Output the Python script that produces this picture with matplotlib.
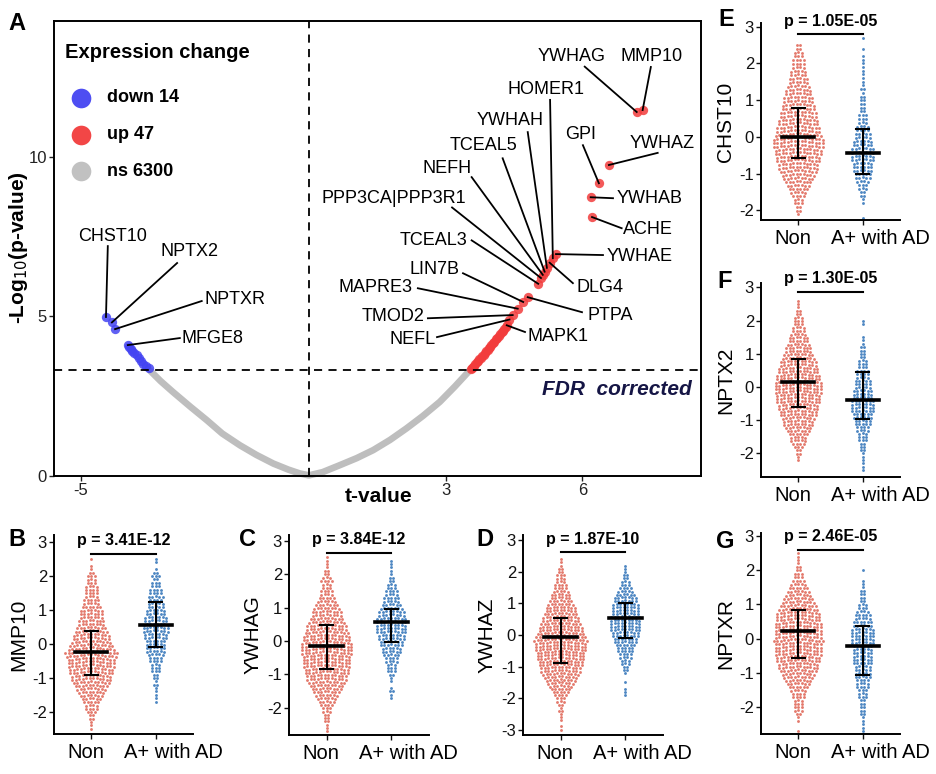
import matplotlib
matplotlib.use("Agg")
import matplotlib.pyplot as plt

plt.rcParams['font.family'] = ['Liberation Sans', 'DejaVu Sans']
plt.rcParams['axes.unicode_minus'] = False

W, H = 937, 774

# ---------------- volcano data (panel A) ----------------
ns_t = [-3.49, -3.25, -2.98, -2.6, -2.24, -1.9, -1.51, -1.15, -0.78, -0.45, -0.2, 0.0,
        0.3, 0.68, 1.05, 1.41, 1.78, 2.14, 2.5, 2.87, 3.2, 3.53]
ns_y = [3.31, 2.97, 2.63, 2.17, 1.75, 1.33, 0.96, 0.66, 0.39, 0.2, 0.08, 0.02,
        0.12, 0.34, 0.56, 0.81, 1.13, 1.49, 1.88, 2.32, 2.8, 3.31]

down_names = ['CHST10', 'NPTX2', 'NPTXR', 'MFGE8'] + [''] * 10
down_t = [-4.45, -4.32, -4.25, -3.97, -3.94, -3.90, -3.87, -3.83, -3.78, -3.73, -3.68, -3.63, -3.57, -3.50]
down_y = [4.98, 4.81, 4.60, 4.10, 4.05, 3.98, 3.93, 3.86, 3.78, 3.70, 3.60, 3.52, 3.45, 3.37]

up_names = ['MMP10', 'YWHAG', 'YWHAZ', 'GPI', 'YWHAB', 'ACHE', 'YWHAE', 'HOMER1', 'DLG4',
            'YWHAH', 'TCEAL5', 'NEFH', 'PPP3CA|PPP3R1', 'TCEAL3', 'PTPA', 'LIN7B', 'MAPRE3',
            'TMOD2', 'NEFL', 'MAPK1'] + [''] * 27
up_t = [7.32, 7.19, 6.58, 6.36, 6.18, 6.21, 5.42, 5.35, 5.28, 5.22, 5.17, 5.13, 5.09, 5.03,
        4.80, 4.70, 4.58, 4.47, 4.40, 4.34,
        4.32, 4.29, 4.26, 4.23, 4.20, 4.16, 4.13, 4.10, 4.06, 4.03, 4.00, 3.97, 3.94, 3.92,
        3.89, 3.86, 3.83, 3.80, 3.77, 3.74, 3.71, 3.68, 3.65, 3.62, 3.60, 3.58, 3.56]
up_y = [11.46, 11.40, 9.74, 9.17, 8.73, 8.11, 6.95, 6.82, 6.68, 6.52, 6.40, 6.30, 6.20, 6.02,
        5.60, 5.45, 5.24, 5.04, 4.90, 4.72,
        4.66, 4.60, 4.55, 4.50, 4.45, 4.38, 4.33, 4.28, 4.20, 4.15, 4.10, 4.05, 4.00, 3.96,
        3.90, 3.85, 3.80, 3.76, 3.70, 3.66, 3.60, 3.56, 3.50, 3.45, 3.42, 3.38, 3.35]

counts = {'down': 14, 'up': 47, 'ns': 6300}
fdr_cut = 3.31

# label text centre (t, y) and start of leader line (t, y)
label_pos = {
    'MMP10': (7.52, 13.13, 7.50, 12.81), 'YWHAG': (5.77, 13.13, 6.05, 12.82),
    'HOMER1': (5.20, 12.12, 5.29, 11.78), 'YWHAH': (4.41, 11.12, 4.80, 10.77),
    'TCEAL5': (3.84, 10.36, 4.25, 9.95), 'NEFH': (3.03, 9.64, 3.57, 9.36),
    'PPP3CA|PPP3R1': (1.86, 8.69, 3.14, 8.41), 'GPI': (5.96, 10.68, 6.01, 10.36),
    'YWHAZ': (7.74, 10.40, 7.65, 10.12), 'YWHAB': (7.48, 8.70, 6.67, 8.70),
    'ACHE': (7.43, 7.73, 6.86, 7.76), 'TCEAL3': (2.74, 7.38, 3.57, 7.38),
    'YWHAE': (7.26, 6.89, 6.45, 6.92), 'LIN7B': (2.76, 6.48, 3.38, 6.35),
    'DLG4': (6.38, 5.91, 5.79, 6.04), 'MAPRE3': (1.47, 5.91, 2.39, 5.88),
    'PTPA': (6.60, 5.03, 5.99, 5.13), 'TMOD2': (1.84, 5.01, 2.61, 4.94),
    'NEFL': (2.28, 4.26, 2.81, 4.35), 'MAPK1': (5.46, 4.38, 4.74, 4.51),
    'CHST10': (-4.30, 7.51, -4.41, 7.20), 'NPTX2': (-2.61, 7.02, -2.89, 6.67),
    'NPTXR': (-1.62, 5.54, -2.35, 5.48), 'MFGE8': (-2.11, 4.32, -2.83, 4.32),
}

# ---------------- swarm panels (B-G) ----------------
# each group: value of lowest row, dot counts per 0.1-wide row
genes = ['MMP10', 'YWHAG', 'YWHAZ', 'CHST10', 'NPTX2', 'NPTXR']
letters = ['B', 'C', 'D', 'E', 'F', 'G']
pvals = ['3.41E-12', '3.84E-12', '1.87E-10', '1.05E-05', '1.30E-05', '2.46E-05']

non_start = [-2.5, -2.7, -3.0, -2.1, -2.2, -2.7]
non_counts = [
    [1, 1, 1, 2, 2, 3, 4, 4, 5, 6, 7, 8, 9, 10, 11, 12, 12, 13, 13, 14, 14, 14, 15, 16, 14,
     13, 12, 11, 11, 10, 9, 8, 8, 7, 7, 7, 6, 5, 5, 4, 4, 4, 4, 3, 3, 3, 2, 1, 1, 0, 1],
    [1, 1, 1, 2, 2, 2, 3, 3, 4, 5, 6, 7, 8, 9, 10, 11, 12, 12, 13, 13, 14, 14, 14, 14, 15, 15,
     15, 15, 14, 14, 13, 12, 12, 11, 10, 9, 9, 8, 7, 6, 5, 4, 4, 3, 3, 4, 3, 2, 2, 1, 1, 1, 1],
    [1, 1, 0, 1, 1, 1, 2, 1, 2, 3, 3, 4, 5, 6, 7, 8, 9, 10, 11, 12, 12, 13, 13, 14, 14, 14, 15,
     15, 15, 16, 15, 14, 13, 13, 12, 11, 11, 10, 9, 9, 8, 7, 6, 6, 5, 4, 4, 3, 3, 3, 2, 2, 1, 1, 1],
    [1, 2, 2, 3, 3, 4, 5, 6, 7, 8, 9, 10, 11, 12, 12, 13, 13, 14, 14, 15, 15, 15, 14, 13, 13,
     12, 12, 11, 11, 10, 10, 9, 9, 8, 8, 7, 6, 6, 5, 5, 4, 4, 4, 3, 3, 2, 2],
    [1, 1, 2, 2, 3, 4, 5, 5, 6, 7, 8, 9, 9, 10, 11, 11, 12, 12, 13, 13, 13, 14, 14, 14, 14,
     13, 13, 12, 12, 11, 11, 10, 9, 8, 8, 7, 6, 6, 5, 4, 4, 3, 3, 3, 2, 2, 1, 1, 1],
    [1, 0, 0, 1, 1, 2, 3, 3, 3, 3, 4, 4, 5, 6, 7, 8, 9, 10, 11, 12, 12, 13, 13, 14, 14, 14, 14,
     15, 14, 14, 14, 14, 14, 13, 13, 13, 12, 11, 10, 9, 8, 7, 6, 5, 4, 3, 3, 2, 2, 1, 1, 1, 1],
]
ad_start = [-1.7, -1.7, -1.9, -2.2, -2.5, -2.7]
ad_counts = [
    [1, 1, 1, 1, 1, 2, 1, 2, 2, 3, 3, 3, 4, 4, 5, 6, 6, 6, 6, 7, 7, 8, 8, 8, 7, 7, 6, 6, 5,
     5, 4, 5, 4, 4, 3, 3, 2, 3, 2, 1, 0, 1, 1],
    [1, 1, 2, 1, 0, 1, 1, 2, 3, 3, 3, 4, 4, 5, 6, 6, 7, 7, 8, 8, 9, 9, 9, 9, 9, 8, 8, 7, 6, 5,
     5, 4, 4, 3, 3, 2, 2, 1, 1, 1, 1, 1],
    [1, 1, 1, 0, 1, 0, 0, 1, 2, 2, 3, 3, 4, 4, 5, 5, 6, 7, 7, 8, 8, 9, 9, 9, 9, 9, 8, 8, 8, 8,
     7, 7, 6, 5, 4, 3, 3, 2, 2, 1, 1, 1],
    [1, 0, 0, 0, 1, 1, 2, 2, 3, 3, 4, 5, 5, 6, 6, 6, 7, 7, 7, 7, 6, 6, 5, 5, 4, 4, 3, 3, 3, 2,
     2, 2, 2, 2, 1, 2, 1, 1, 1, 1, 1, 1, 1, 1, 1, 0, 1, 0, 0, 1],
    [1, 1, 1, 1, 1, 1, 2, 2, 2, 3, 3, 3, 4, 4, 5, 5, 6, 6, 7, 7, 7, 7, 6, 6, 6, 5, 5, 5, 4, 4,
     4, 3, 3, 3, 2, 2, 2, 2, 1, 1, 1, 0, 0, 0, 1, 1],
    [1, 1, 1, 1, 1, 2, 2, 2, 2, 2, 3, 3, 3, 4, 4, 4, 5, 5, 5, 5, 6, 6, 6, 6, 6, 6, 7, 7, 7, 7,
     7, 6, 6, 5, 5, 4, 3, 3, 2, 2, 2, 2, 1, 1, 1, 0, 0, 1],
]
# mean and error bar ends
non_mean = [-0.25, -0.15, -0.07, 0.01, 0.15, 0.23]
non_lo = [-0.91, -0.84, -0.88, -0.58, -0.61, -0.58]
non_hi = [0.38, 0.48, 0.55, 0.80, 0.83, 0.85]
ad_mean = [0.54, 0.57, 0.55, -0.44, -0.39, -0.23]
ad_lo = [-0.10, -0.02, -0.08, -1.02, -0.96, -1.05]
ad_hi = [1.24, 0.97, 1.02, 0.21, 0.46, 0.38]
bar_y = [2.65, 2.63, 2.62, 2.79, 2.87, 2.59]
groups = ['Non', 'A+ with AD']

# panel boxes in pixels: left, top, right, bottom, ylim
boxes = [(54, 535, 193, 734, (-2.65, 3.2)), (289, 535, 429, 735, (-2.81, 3.17)),
         (523, 535, 663, 735, (-3.17, 3.17)), (761, 23, 900, 220, (-2.26, 3.10)),
         (761, 283, 900, 477, (-2.71, 3.13)), (761, 533, 900, 734, (-2.79, 3.09))]
yticks = [range(-2, 4), range(-2, 4), range(-3, 4), range(-2, 4), range(-2, 4), range(-2, 4)]

BLUE, RED, GREY = '#4444f2', '#f23c3c', '#bebebe'
NON_C, AD_C = '#e3796c', '#4c86c2'


def add_px_axes(fig, l, t, r, b):
    return fig.add_axes([l / W, 1 - b / H, (r - l) / W, (b - t) / H])


fig = plt.figure(figsize=(W / 100, H / 100), dpi=100)

# ---------------- panel A ----------------
ax = add_px_axes(fig, 54, 21, 701, 476)
ax.set_xlim(-5.59, 8.6)
ax.set_ylim(0, 14.25)
ax.plot(ns_t, ns_y, color=GREY, lw=4.8, solid_capstyle='round', solid_joinstyle='round',
        clip_on=False, zorder=2)
ax.scatter(down_t, down_y, s=45, color=BLUE, alpha=0.85, linewidths=0, zorder=3)
ax.scatter(up_t, up_y, s=45, color=RED, alpha=0.85, linewidths=0, zorder=3)
ax.axhline(fdr_cut, color='black', lw=1.3, ls=(0, (4.5, 3.5)), zorder=4)
ax.axvline(0, color='black', lw=1.3, ls=(0, (4.5, 3.5)), zorder=4)

for names, ts, ys in [(down_names, down_t, down_y), (up_names, up_t, up_y)]:
    for n, t, y in zip(names, ts, ys):
        if n in label_pos:
            lx, ly, sx, sy = label_pos[n]
            ax.plot([sx, t], [sy, y], color='black', lw=1.3, zorder=5)
            ax.text(lx, ly, n, fontsize=13, ha='center', va='center', zorder=6)

ax.text(0.985, 2.72, 'FDR  corrected', transform=ax.get_yaxis_transform(), ha='right',
        va='center', fontsize=15, fontweight='bold', style='italic', color='#151545')

# legend
ax.text(0.017, 0.93, 'Expression change', transform=ax.transAxes, fontsize=14.5,
        fontweight='bold', va='center', ha='left')
for i, (key, col) in enumerate([('down', BLUE), ('up', RED), ('ns', GREY)]):
    yy = 0.831 - i * 0.0805
    ax.scatter([0.042], [yy], s=200, color=col, transform=ax.transAxes, linewidths=0,
               alpha=0.95, clip_on=False)
    ax.text(0.082, yy, f'{key} {counts[key]}', transform=ax.transAxes, fontsize=13,
            fontweight='bold', va='center', ha='left')

ax.set_xticks([-5, 3, 6])
ax.set_yticks([0, 5, 10])
ax.tick_params(labelsize=12, length=3.5, width=1.0, colors='#222222', pad=1.5)
for s in ax.spines.values():
    s.set_linewidth(1.4)
fig.text(379 / W, 1 - 497 / H, 't-value', fontsize=15, fontweight='bold', ha='center', va='center')
fig.text(19 / W, 1 - 248 / H, '-Log$_{10}$(p-value)', fontsize=15, fontweight='bold',
         rotation=90, ha='center', va='center')
fig.text(17 / W, 1 - 23 / H, 'A', fontsize=17, fontweight='bold', ha='center', va='center')

# ---------------- panels B-G ----------------
DX = 0.054     # horizontal dot spacing
DROOP = 0.011  # outer dots of a row sit a little lower (beeswarm look)
label_shift = [-4.0, 12.5]  # group label offsets in points, as set in the figure
letter_px = [(17, 540), (248, 540), (485, 540), (726, 20), (725, 282), (725, 541)]
for k in range(6):
    l, t, r, b, yl = boxes[k]
    bx = add_px_axes(fig, l, t, r, b)
    bx.set_xlim(0.42, 2.58)
    bx.set_ylim(*yl)
    for xc, start, cnt, col in [(1, non_start[k], non_counts[k], NON_C),
                                (2, ad_start[k], ad_counts[k], AD_C)]:
        xs, ys = [], []
        for j, n in enumerate(cnt):
            for i in range(n):
                off = i - (n - 1) / 2
                xs.append(xc + off * DX)
                ys.append(start + 0.1 * j - DROOP * abs(off))
        bx.scatter(xs, ys, s=4.2, color=col, linewidths=0, zorder=2)
    for xc, m, lo, hi in [(1, non_mean[k], non_lo[k], non_hi[k]),
                          (2, ad_mean[k], ad_lo[k], ad_hi[k])]:
        bx.plot([xc - 0.25, xc + 0.25], [m, m], color='black', lw=2.6, zorder=4)
        bx.plot([xc, xc], [lo, hi], color='black', lw=1.5, zorder=4)
        bx.plot([xc - 0.1, xc + 0.1], [lo, lo], color='black', lw=1.5, zorder=4)
        bx.plot([xc - 0.1, xc + 0.1], [hi, hi], color='black', lw=1.5, zorder=4)
    bx.plot([1, 2], [bar_y[k], bar_y[k]], color='black', lw=1.5, clip_on=False, zorder=4)
    bx.annotate(f'p = {pvals[k]}', xy=(1.5, bar_y[k]), xytext=(0, 9.5),
                textcoords='offset points', ha='center', va='center', fontsize=11.5,
                fontweight='bold', annotation_clip=False)
    bx.set_xticks([1, 2])
    bx.set_xticklabels([])
    for xc, g, dx in zip([1, 2], groups, label_shift):
        bx.annotate(g, xy=(xc, 0), xycoords=('data', 'axes fraction'), xytext=(dx, -17.3),
                    textcoords='offset points', ha='center', va='baseline', fontsize=14.5,
                    annotation_clip=False)
    bx.set_yticks(list(yticks[k]))
    bx.tick_params(labelsize=12, length=3.5, width=1.0, colors='#111111', pad=1.5)
    for s in ['top', 'right']:
        bx.spines[s].set_visible(False)
    for s in ['left', 'bottom']:
        bx.spines[s].set_linewidth(1.4)
    bx.set_ylabel(genes[k], fontsize=15, labelpad=3)
    fig.text(letter_px[k][0] / W, 1 - letter_px[k][1] / H, letters[k], fontsize=17,
             fontweight='bold', ha='center', va='center')

fig.savefig('out.png', dpi=100)
